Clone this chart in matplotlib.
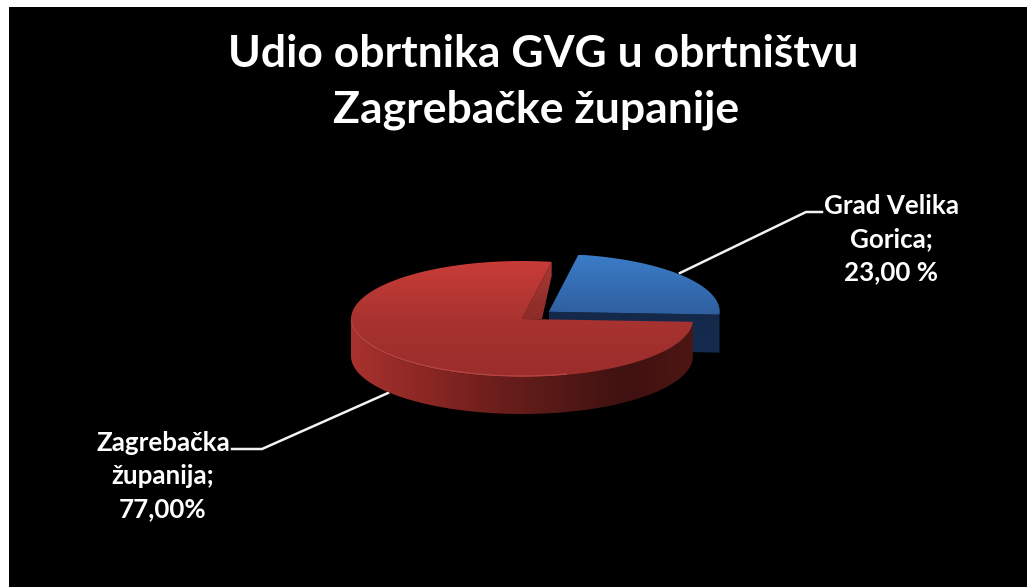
"""
Udio obrtnika GVG - 3D pie redrawn in flat matplotlib, pixel coordinates.
"""
import numpy as np
import matplotlib
matplotlib.use("Agg")
import matplotlib.pyplot as plt
from matplotlib.colors import LinearSegmentedColormap
from matplotlib.patches import Polygon, Rectangle

plt.rcParams["font.family"] = ["Lato", "DejaVu Sans"]

TITLE_LINES = ["Udio obrtnika GVG u obrtništvu", "Zagrebačke županije"]
shares = [23.0, 77.0]
labels = ["Grad Velika\nGorica;\n23,00 %", "Zagrebačka\nžupanija;\n77,00%"]

W, H = 1027, 587
CX, CY, RX, RY = 522, 319, 171, 58   # top ellipse of the pie
DEPTH = 37
START = 80      # where the red slice starts, counter clockwise from east
EXPLODE = 0.2   # blue slice pulled out


def arc(t1, t2, cx=CX, cy=CY, n=200):
    t = np.radians(np.linspace(t1, t2, n))
    return np.column_stack([cx + RX * np.cos(t), cy - RY * np.sin(t)])


def gradient(ax, pts, colors, vertical=True, z=3):
    # fill a polygon with a linear gradient, clip an image to it
    cmap = LinearSegmentedColormap.from_list("g", colors)
    x0, x1 = pts[:, 0].min(), pts[:, 0].max()
    y0, y1 = pts[:, 1].min(), pts[:, 1].max()
    grad = np.linspace(0, 1, 256).reshape(-1, 1) if vertical else np.linspace(0, 1, 256).reshape(1, -1)
    im = ax.imshow(grad, cmap=cmap, extent=[x0, x1, y1, y0], aspect="auto", zorder=z, interpolation="bilinear")
    poly = Polygon(pts, closed=True, transform=ax.transData, fc="none", ec="none")
    ax.add_patch(poly)
    im.set_clip_path(poly)


fig = plt.figure(figsize=(W / 100, H / 100), dpi=100, facecolor="white")
ax = fig.add_axes([0, 0, 1, 1])
ax.add_patch(Rectangle((9, 7), W - 9, H - 7, fc="black", ec="none", zorder=0))

# angles come from the shares
red_end = START + 360 * shares[1] / 100
blue_end = START
blue_start = red_end - 360
mid = np.radians((blue_start + blue_end) / 2)
bx = CX + EXPLODE * RX * np.cos(mid)
by = CY - EXPLODE * RY * np.sin(mid)

# leader lines, behind the pie
ax.plot([680, 806, 822], [273, 212, 212], color="#f2f2f2", lw=1.8, zorder=1)
ax.plot([388, 262, 232], [393, 449, 449], color="#f2f2f2", lw=1.8, zorder=1)

# blue slice: side faces first, then top
b_rim = arc(blue_start, blue_end, bx, by)
cut = np.array([[bx, by], b_rim[0], b_rim[0] + [0, DEPTH + 1], [bx, by + DEPTH + 1]])
gradient(ax, cut, ["#14294a", "#152c4f"], z=2)
b_top = np.vstack([[bx, by], b_rim])
gradient(ax, b_top, ["#3b7cc8", "#2f5f9e"], z=2.5)

# red slice: cut face, outer wall, top
rim = arc(START, red_end)
p = rim[0]
face = np.array([[CX, CY], p, p + [0, 14], [CX + 20, CY]])
gradient(ax, face, ["#a83833", "#8c2c28"], z=3)

wall_top = arc(180, red_end)
wall = np.vstack([wall_top, wall_top[::-1] + [0, DEPTH]])
gradient(ax, wall, ["#a8322e", "#8e2824", "#6f1f1c", "#561917", "#3f1110", "#4e1613"], vertical=False, z=3)

top = np.vstack([[CX, CY], rim])
gradient(ax, top, ["#c93c38", "#a83330", "#9a2d2a"], z=4)

# light bevel along the front edge of the top
edge = arc(183, 285, CX, CY - 1)
ax.plot(edge[:, 0], edge[:, 1], color="#d9605a", lw=1.0, alpha=0.45, zorder=5)

ax.text(543, 54, TITLE_LINES[0], color="white", fontsize=32, fontweight="bold", ha="center", va="center", zorder=6)
ax.text(536, 110, TITLE_LINES[1], color="white", fontsize=32, fontweight="bold", ha="center", va="center", zorder=6)
ax.text(891, 239, labels[0], color="white", fontsize=18.7, fontweight="bold", ha="center", va="center",
        linespacing=1.44, zorder=6)
ax.text(163, 476, labels[1], color="white", fontsize=18.7, fontweight="bold", ha="center", va="center",
        linespacing=1.44, zorder=6)

ax.set_xlim(0, W)
ax.set_ylim(H, 0)
ax.axis("off")
fig.savefig("out.png", dpi=100, facecolor="white")
